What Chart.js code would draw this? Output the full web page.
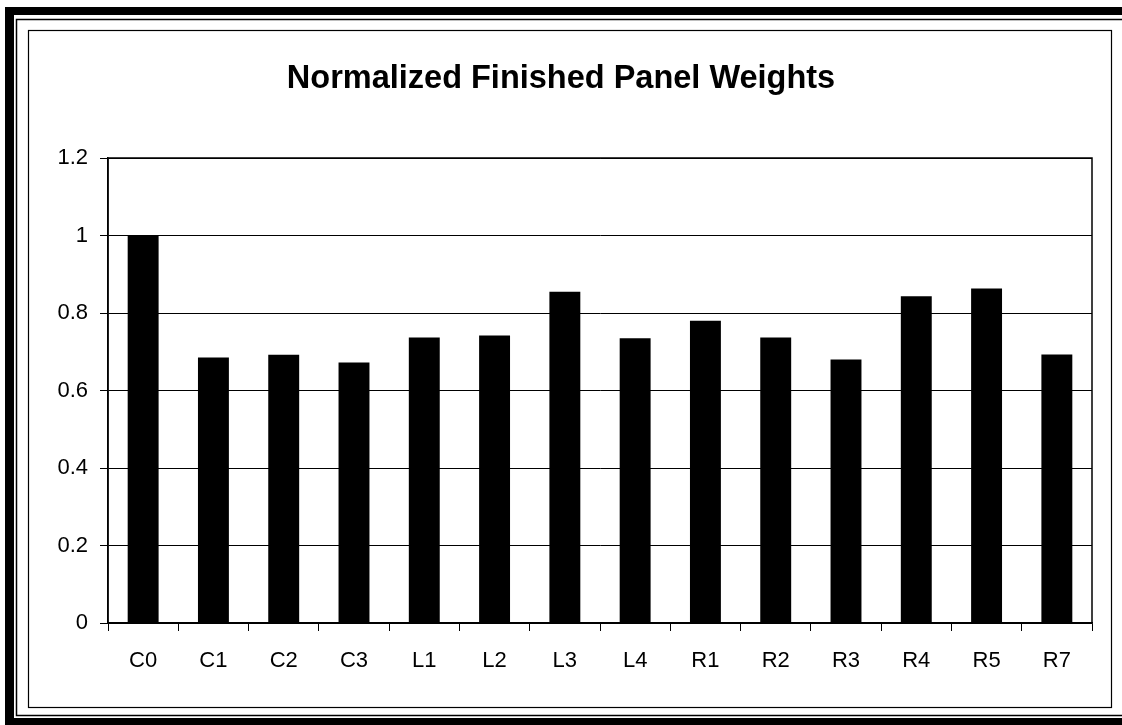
<!DOCTYPE html>
<html>
<head>
<meta charset="utf-8">
<script src="https://cdn.jsdelivr.net/npm/chart.js@4"></script>
<style>
  body { margin: 0; background: #fff; }
  #wrap { width: 1122px; height: 725px; }
</style>
</head>
<body>
<div id="wrap"><canvas id="chart" width="1122" height="725"></canvas></div>
<script>
const categories = ["C0", "C1", "C2", "C3", "L1", "L2", "L3", "L4", "R1", "R2", "R3", "R4", "R5", "R7"];
const weights = [1.0, 0.685, 0.692, 0.672, 0.737, 0.742, 0.855, 0.735, 0.78, 0.737, 0.68, 0.843, 0.863, 0.693];
const yTicks = [0, 0.2, 0.4, 0.6, 0.8, 1, 1.2];
const yTickLabels = ["0", "0.2", "0.4", "0.6", "0.8", "1", "1.2"];

// scanned-page frames round the chart
const framePlugin = {
  id: 'frames',
  beforeDraw(chart) {
    const c = chart.ctx;
    c.save();
    c.fillStyle = '#fff';
    c.fillRect(0, 0, chart.width, chart.height);
    c.fillStyle = '#000';
    c.fillRect(5, 7, 1117, 8);
    c.fillRect(5, 7, 9, 718);
    c.fillRect(5, 718, 1117, 7);
    c.strokeStyle = '#000';
    c.lineWidth = 1.5;
    c.beginPath();
    c.moveTo(1122, 19.5); c.lineTo(16.5, 19.5); c.lineTo(16.5, 715.5); c.lineTo(1122, 715.5);
    c.stroke();
    c.lineWidth = 1.2;
    c.strokeRect(28.5, 30.5, 1083, 677);
    c.restore();
  },
  afterDraw(chart) {
    const a = chart.chartArea;
    const c = chart.ctx;
    c.save();
    c.strokeStyle = '#000';
    c.lineWidth = 1.5;
    c.strokeRect(a.left, a.top, a.right - a.left, a.bottom - a.top);
    c.restore();
  }
};

new Chart(document.getElementById('chart'), {
  type: 'bar',
  data: {
    labels: categories,
    datasets: [{
      label: 'Normalized weight',
      data: weights,
      backgroundColor: '#000',
      borderWidth: 0,
      barPercentage: 0.44,
      categoryPercentage: 1
    }]
  },
  options: {
    responsive: false,
    animation: false,
    layout: { padding: { left: 30, right: 30, top: 30, bottom: 0 } },
    plugins: {
      legend: { display: false },
      tooltip: { enabled: false },
      title: {
        display: true,
        text: 'Normalized Finished Panel Weights',
        color: '#000',
        font: { family: 'Liberation Sans, Arial, sans-serif', size: 32.5, weight: 'bold' },
        padding: { top: 30, bottom: 59 }
      }
    },
    scales: {
      x: {
        grid: { drawOnChartArea: false, drawTicks: true, tickLength: 8, color: '#000', offset: true },
        border: { display: true, color: '#000', width: 1.5 },
        ticks: {
          color: '#000',
          padding: 17,
          font: { family: 'Liberation Sans, Arial, sans-serif', size: 22 }
        },
        afterFit(scale) { scale.height = 102; }
      },
      y: {
        min: 0,
        max: 1.2,
        afterBuildTicks(scale) { scale.ticks = yTicks.map(v => ({ value: v })); },
        grid: { color: '#000', lineWidth: 1, tickLength: 8 },
        border: { display: true, color: '#000', width: 1.5 },
        ticks: {
          color: '#000',
          padding: 12,
          font: { family: 'Liberation Sans, Arial, sans-serif', size: 22 },
          callback: (v) => yTickLabels[yTicks.indexOf(Math.round(v * 10) / 10)]
        },
        afterFit(scale) { scale.width = 78; }
      }
    }
  },
  plugins: [framePlugin]
});
</script>
</body>
</html>
